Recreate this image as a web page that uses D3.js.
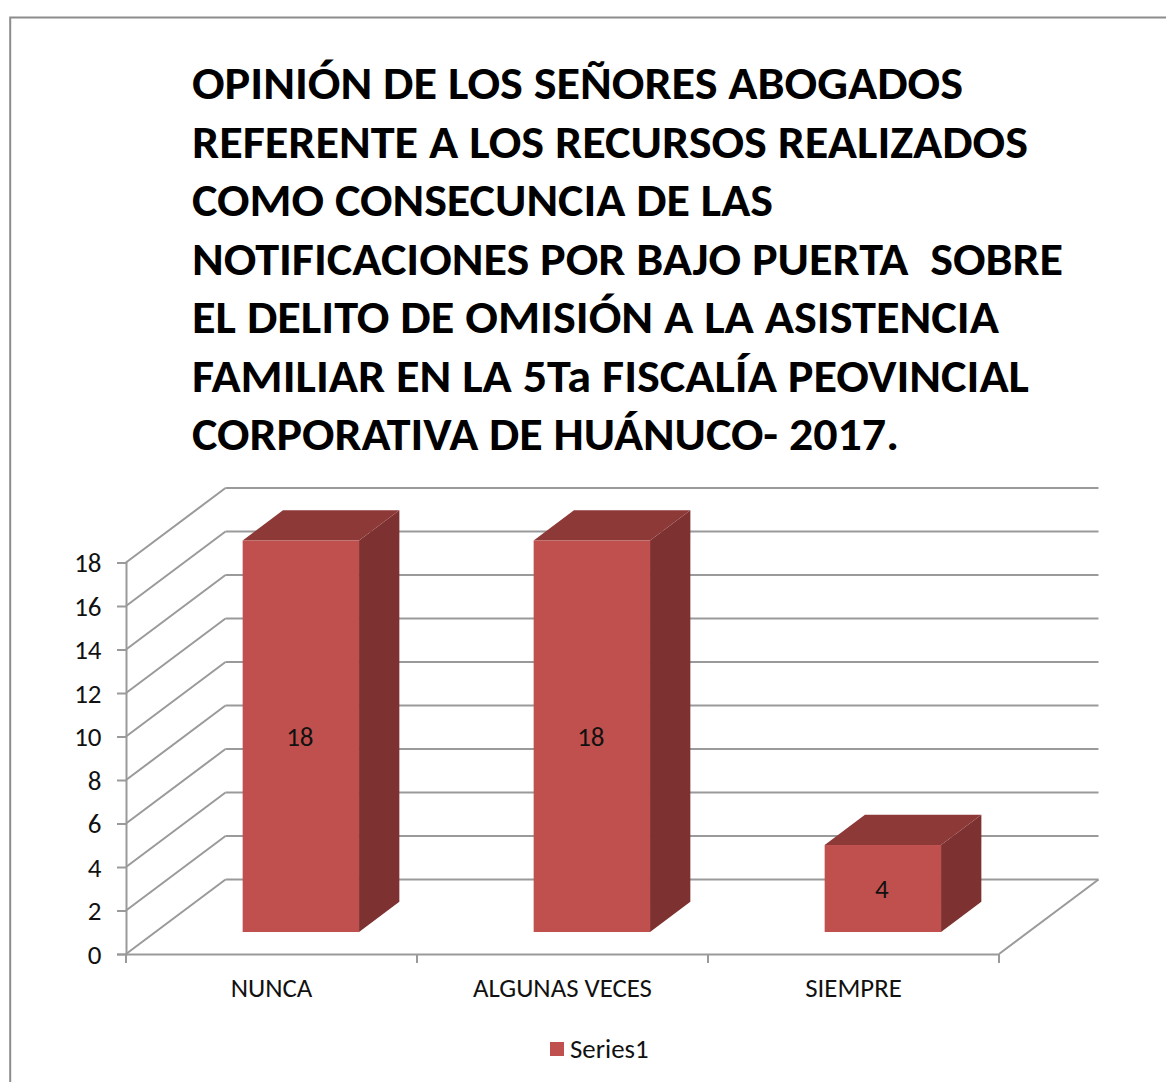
<!DOCTYPE html>
<html><head><meta charset="utf-8">
<script src="https://cdnjs.cloudflare.com/ajax/libs/d3/7.8.5/d3.min.js"></script>
<style>html,body{margin:0;padding:0;background:#fff}svg{display:block}</style>
</head><body>
<script>
const categories = ["NUNCA", "ALGUNAS VECES", "SIEMPRE"];
const values = [18, 18, 4];
const yTicks = [0, 2, 4, 6, 8, 10, 12, 14, 16, 18];
const seriesName = "Series1";
const titleLines = [
  "OPINIÓN DE LOS SEÑORES ABOGADOS",
  "REFERENTE A LOS RECURSOS REALIZADOS",
  "COMO CONSECUNCIA DE LAS",
  "NOTIFICACIONES POR BAJO PUERTA  SOBRE",
  "EL DELITO DE OMISIÓN A LA ASISTENCIA",
  "FAMILIAR EN LA 5Ta FISCALÍA PEOVINCIAL",
  "CORPORATIVA DE HUÁNUCO- 2017."
];
const titleWidths = [771, 836, 581, 871, 807, 837, 707];

const W = 1166, H = 1082;
const font = "Carlito, 'Open Sans', 'Noto Sans', sans-serif";
const svg = d3.select("body").append("svg").attr("width", W).attr("height", H);

svg.append("path").attr("d", `M10.2,${H}V17.5H${W}`).attr("fill", "none").attr("stroke", "#8c8c8c").attr("stroke-width", 2);

const titleY = d3.scaleLinear().domain([0, 6]).range([99, 450]);
svg.append("g").selectAll("text").data(titleLines).join("text")
  .attr("x", 192).attr("y", (d, i) => titleY(i))
  .attr("textLength", (d, i) => titleWidths[i]).attr("lengthAdjust", "spacingAndGlyphs")
  .style("white-space", "pre")
  .attr("font-family", font).attr("font-weight", 700).attr("font-size", 46).attr("fill", "#000")
  .text(d => d);

const x = d3.scaleBand().domain(categories).range([126, 999]);
const y = d3.scaleLinear().domain([0, 18]).range([954, 562.5]);
const depthX = 99.5, depthY = -74.5;
const grid = "#9a9a9a";

const g = svg.append("g");
g.selectAll(".diag").data(yTicks).join("line").attr("class", "diag")
  .attr("x1", 126).attr("y1", d => y(d)).attr("x2", 126 + depthX).attr("y2", d => y(d) + depthY)
  .attr("stroke", grid).attr("stroke-width", 2);
g.selectAll(".back").data(yTicks).join("line").attr("class", "back")
  .attr("x1", 126 + depthX).attr("y1", d => y(d) + depthY).attr("x2", 999 + depthX).attr("y2", d => y(d) + depthY)
  .attr("stroke", grid).attr("stroke-width", 2);
g.append("line").attr("x1", 999).attr("y1", y(0)).attr("x2", 999 + depthX).attr("y2", y(0) + depthY)
  .attr("stroke", grid).attr("stroke-width", 2);

const axisLeft = d3.axisLeft(y).tickValues(yTicks).tickSize(9).tickPadding(15.5);
const ay = svg.append("g").attr("transform", "translate(126,0)").call(axisLeft);
ay.select(".domain").attr("stroke", grid).attr("stroke-width", 2);
ay.selectAll("line").attr("stroke", grid).attr("stroke-width", 2);
ay.selectAll("text").attr("font-family", font).attr("font-size", 27).attr("fill", "#111").attr("dy", "0.34em");

const axisBottom = d3.axisBottom(x).tickSize(0).tickPadding(24);
const ax = svg.append("g").attr("transform", `translate(0,${y(0)})`).call(axisBottom);
ax.select(".domain").attr("stroke", grid).attr("stroke-width", 2);
ax.selectAll("text").attr("font-family", font).attr("font-size", 26.8).attr("fill", "#111");
const edges = [...categories.map(c => x(c)), 999];
ax.selectAll(".edge").data(edges).join("line").attr("class", "edge")
  .attr("x1", d => d).attr("x2", d => d).attr("y1", 0).attr("y2", 9)
  .attr("stroke", grid).attr("stroke-width", 2);

const barFrac = 0.4, barDepth = 0.295, barBackDepth = 0.7;
const data = categories.map((c, i) => ({c, v: values[i]}));
const bars = svg.append("g").selectAll("g").data(data).join("g");
const bw = x.bandwidth() * barFrac;
const fx0 = d => x(d.c) + (x.bandwidth() - bw) / 2 + depthX * barDepth;
const fy0 = depthY * barDepth;
const sdx = depthX * (barBackDepth - barDepth), sdy = depthY * (barBackDepth - barDepth);
bars.append("path").attr("fill", "#7d3131").attr("d", d => {
  const xr = fx0(d) + bw, yb = y(0) + fy0, yt = y(d.v) + fy0;
  return `M${xr},${yb}L${xr + sdx},${yb + sdy}V${yt + sdy}L${xr},${yt}Z`;
});
bars.append("path").attr("fill", "#8d3937").attr("d", d => {
  const xl = fx0(d), yt = y(d.v) + fy0;
  return `M${xl},${yt}L${xl + sdx},${yt + sdy}H${xl + bw + sdx}L${xl + bw},${yt}Z`;
});
bars.append("rect").attr("fill", "#c0504d")
  .attr("x", fx0).attr("width", bw)
  .attr("y", d => y(d.v) + fy0).attr("height", d => y(0) - y(d.v));
bars.append("text").attr("text-anchor", "middle")
  .attr("x", d => fx0(d) + bw / 2 - 1)
  .attr("y", d => (y(d.v) + y(0)) / 2 + fy0 + 9.5)
  .attr("font-family", font).attr("font-size", 27).attr("fill", "#111")
  .text(d => d.v);

const legend = svg.append("g");
legend.append("rect").attr("x", 550).attr("y", 1042).attr("width", 14).attr("height", 14).attr("fill", "#c0504d");
legend.append("text").attr("x", 570).attr("y", 1058)
  .attr("font-family", font).attr("font-size", 26.8).attr("fill", "#111").text(seriesName);
</script>
</body></html>
